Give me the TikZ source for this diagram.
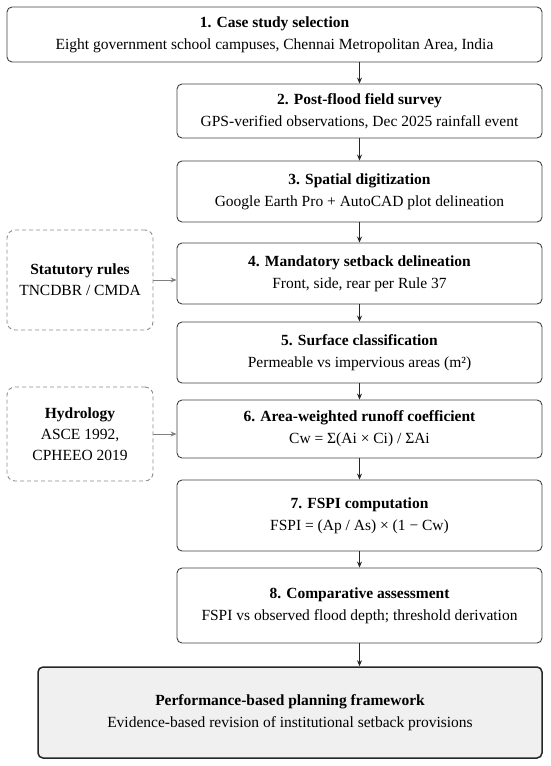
\documentclass[tikz,border=0pt]{standalone}
\usepackage{fontspec}
\setmainfont{Liberation Serif}
\usetikzlibrary{arrows.meta}

\tikzset{
    stepbox/.style={draw=black!75, line width=0.9pt, rounded corners=5pt,
        align=center, inner sep=0pt, minimum width=365pt,
        font=\fontsize{15.5}{22}\selectfont},
    sidebox/.style={draw=black!45, line width=0.9pt, dash pattern=on 4pt off 3pt,
        rounded corners=8pt, align=center, inner sep=0pt,
        minimum width=146pt, font=\fontsize{15.5}{21}\selectfont},
    flow/.style={-{Stealth[length=6pt,width=5pt]}, line width=0.9pt, black!85},
    feed/.style={-{Stealth[length=6pt,width=5pt]}, line width=0.9pt, black!50}
}

\begin{document}
\begin{tikzpicture}[x=1pt, y=-1pt]
    \useasboundingbox (0,0) rectangle (550,766);

    % main steps
    \node[stepbox, minimum width=535pt, minimum height=55pt] (s1) at (274.5,34.5)
        {\textbf{1. Case study selection}\\ Eight government school campuses, Chennai Metropolitan Area, India};
    \node[stepbox, minimum height=54pt] (s2) at (359.5,111)
        {\textbf{2. Post-flood field survey}\\ GPS-verified observations, Dec 2025 rainfall event};
    \node[stepbox, minimum height=61pt] (s3) at (359.5,191.5)
        {\textbf{3. Spatial digitization}\\ Google Earth Pro + AutoCAD plot delineation};
    \node[stepbox, minimum height=61pt] (s4) at (359.5,273.5)
        {\textbf{4. Mandatory setback delineation}\\ Front, side, rear per Rule 37};
    \node[stepbox, minimum height=61pt] (s5) at (359.5,352.5)
        {\textbf{5. Surface classification}\\ Permeable vs impervious areas (m²)};
    \node[stepbox, minimum height=58pt] (s6) at (359.5,429)
        {\textbf{6. Area-weighted runoff coefficient}\\ Cw = Σ(Ai × Ci) / ΣAi};
    \node[stepbox, minimum height=71pt] (s7) at (359.5,515.5)
        {\textbf{7. FSPI computation}\\ FSPI = (Ap / As) × (1 − Cw)};
    \node[stepbox, minimum height=75pt] (s8) at (359.5,605.5)
        {\textbf{8. Comparative assessment}\\ FSPI vs observed flood depth; threshold derivation};
    \node[stepbox, minimum width=504pt, minimum height=91pt, line width=1.5pt,
        draw=black!85, fill=black!6] (fin) at (290,712.5)
        {\textbf{Performance-based planning framework}\\ Evidence-based revision of institutional setback provisions};

    % inputs
    \node[sidebox, minimum height=100pt] (rules) at (80,280)
        {\textbf{Statutory rules}\\ TNCDBR / CMDA};
    \node[sidebox, minimum height=94pt] (hydro) at (80,434)
        {\textbf{Hydrology}\\ ASCE 1992,\\ CPHEEO 2019};

    % arrows
    \draw[flow] (s2.north |- s1.south) -- (s2.north);
    \draw[flow] (s2) -- (s3);
    \draw[flow] (s3) -- (s4);
    \draw[flow] (s4) -- (s5);
    \draw[flow] (s5) -- (s6);
    \draw[flow] (s6) -- (s7);
    \draw[flow] (s7) -- (s8);
    \draw[flow] (s8.south) -- (s8.south |- fin.north);
    \draw[feed] (rules.east) -- (rules.east -| s4.west);
    \draw[feed] (hydro.east) -- (hydro.east -| s6.west);
\end{tikzpicture}
\end{document}
